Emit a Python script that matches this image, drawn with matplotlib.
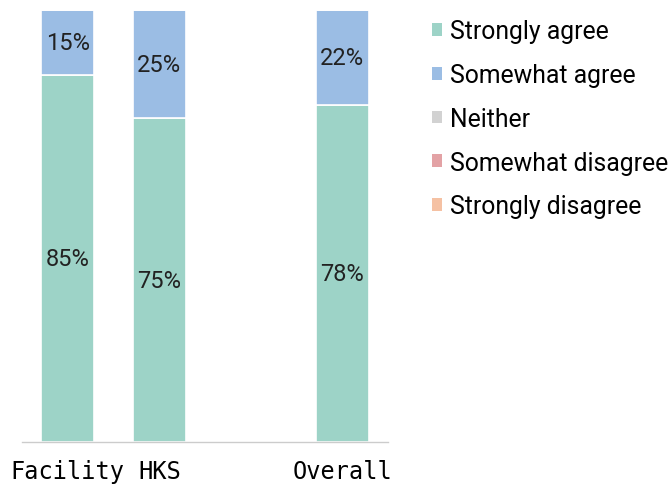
import numpy as np
import matplotlib.pyplot as plt
from matplotlib.patches import Patch

# survey groups; slot 2 is left empty to set "Overall" apart
groups = ["Facility", "HKS", "Overall"]
group_pos = [0, 1, 3]

responses = ["Strongly agree", "Somewhat agree", "Neither",
             "Somewhat disagree", "Strongly disagree"]
strongly_agree = [85, 75, 78]
somewhat_agree = [15, 25, 22]
neither = [0, 0, 0]
somewhat_disagree = [0, 0, 0]
strongly_disagree = [0, 0, 0]

colors = ["#9dd3c7", "#9bbde4", "#d2d2d2", "#e3a2a5", "#f5c1a3"]

series = [strongly_agree, somewhat_agree, neither,
          somewhat_disagree, strongly_disagree]

fig = plt.figure(figsize=(6.7, 4.85), dpi=100)
ax = fig.add_axes([0.033, 0.0866, 0.546, 0.8904])

bottom = np.zeros(len(groups))
for name, vals, col in zip(responses, series, colors):
    vals = np.array(vals, dtype=float)
    bars = ax.bar(group_pos, vals, bottom=bottom, width=0.58, color=col,
                  edgecolor="white", linewidth=1.2)
    for b, v in zip(bars, vals):
        if v > 0:
            ax.text(b.get_x() + b.get_width() / 2, b.get_y() + v / 2,
                    f"{v:.0f}%", ha="center", va="center",
                    fontsize=17, family="Roboto", color="#222222")
    bottom += vals

ax.set_xlim(-0.5, 3.5)
ax.set_ylim(0, 100)
ax.set_xticks(group_pos)
ax.set_xticklabels(groups, family="DejaVu Sans Mono", fontsize=17)
ax.tick_params(axis="x", length=0, pad=12)
ax.set_yticks([])
for s in ["top", "right", "left"]:
    ax.spines[s].set_visible(False)
ax.spines["bottom"].set_color("#cccccc")
ax.spines["bottom"].set_linewidth(1.0)

handles = [Patch(facecolor=c, edgecolor="none") for c in colors]
fig.legend(handles, responses, loc="upper left",
           bbox_to_anchor=(0.614, 1.0), frameon=False,
           prop={"family": "Roboto", "size": 17.8},
           handlelength=0.42, handleheight=0.42, handletextpad=0.33,
           labelspacing=0.8, borderaxespad=0.42)

fig.savefig("out.png", dpi=100)
